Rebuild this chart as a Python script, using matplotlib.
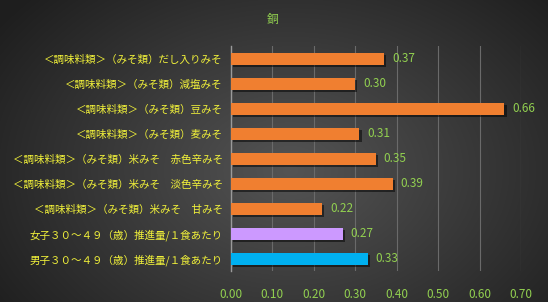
import numpy as np
import matplotlib
matplotlib.use("Agg")
import matplotlib.pyplot as plt
import matplotlib.patheffects as pe

plt.rcParams['font.family'] = ['Noto Sans CJK JP', 'DejaVu Sans']

title = "銅"
labels = [
    "＜調味料類＞（みそ類）だし入りみそ",
    "＜調味料類＞（みそ類）減塩みそ",
    "＜調味料類＞（みそ類）豆みそ",
    "＜調味料類＞（みそ類）麦みそ",
    "＜調味料類＞（みそ類）米みそ　赤色辛みそ",
    "＜調味料類＞（みそ類）米みそ　淡色辛みそ",
    "＜調味料類＞（みそ類）米みそ　甘みそ",
    "女子３０～４９（歳）推進量/１食あたり",
    "男子３０～４９（歳）推進量/１食あたり",
]
values = [0.37, 0.30, 0.66, 0.31, 0.35, 0.39, 0.22, 0.27, 0.33]
colors = ["#F07F30"] * 7 + ["#CC99FF", "#00B0F0"]
xticks = [0.0, 0.1, 0.2, 0.3, 0.4, 0.5, 0.6, 0.7]

fig = plt.figure(figsize=(5.48, 3.02), dpi=100)

# radial gradient background
bg = fig.add_axes([0, 0, 1, 1])
yy, xx = np.mgrid[0:302, 0:548]
d = np.sqrt(((xx - 290) / 320.0) ** 2 + ((yy - 170) / 230.0) ** 2)
g = np.clip(0.33 - 0.19 * d, 0.12, 0.34)
bg.imshow(np.dstack([g, g, g]), aspect='auto', extent=[0, 1, 0, 1])
bg.axis('off')

ax = fig.add_axes([231 / 548, 1 - 271 / 302, 290 / 548, 225 / 302])
ax.patch.set_alpha(0)
y = np.arange(len(labels))
bars = ax.barh(y, values, height=0.48, color=colors, zorder=3)
for b in bars:
    b.set_path_effects([pe.SimplePatchShadow(offset=(1.5, -1.5), shadow_rgbFace='black', alpha=0.5), pe.Normal()])

for yi, v in zip(y, values):
    ax.text(v + 0.019, yi, f"{v:.2f}", va='center', ha='left', color='#92D050', fontsize=8.5)

ax.set_xlim(0, 0.7)
ax.set_ylim(len(labels) - 0.5, -0.5)
ax.set_xticks(xticks)
ax.set_xticklabels([f"{t:.2f}" for t in xticks], color='#92D050', fontsize=8.5)
ax.set_yticks(y)
ax.set_yticklabels(labels, color='#F2F23A', fontsize=7.6)
ax.tick_params(axis='both', length=0)
ax.tick_params(axis='y', pad=6)
ax.tick_params(axis='x', pad=12)
ax.grid(axis='x', color='#6a6a6a', linewidth=0.8, zorder=0)
for s in ['top', 'right', 'bottom']:
    ax.spines[s].set_visible(False)
ax.spines['left'].set_color('#9a9a9a')
ax.spines['left'].set_linewidth(1.0)

fig.text(273 / 548, 1 - 20 / 302, title, color='#92D050', fontsize=8.5, ha='center', va='center')

fig.savefig("out.png", dpi=100)
